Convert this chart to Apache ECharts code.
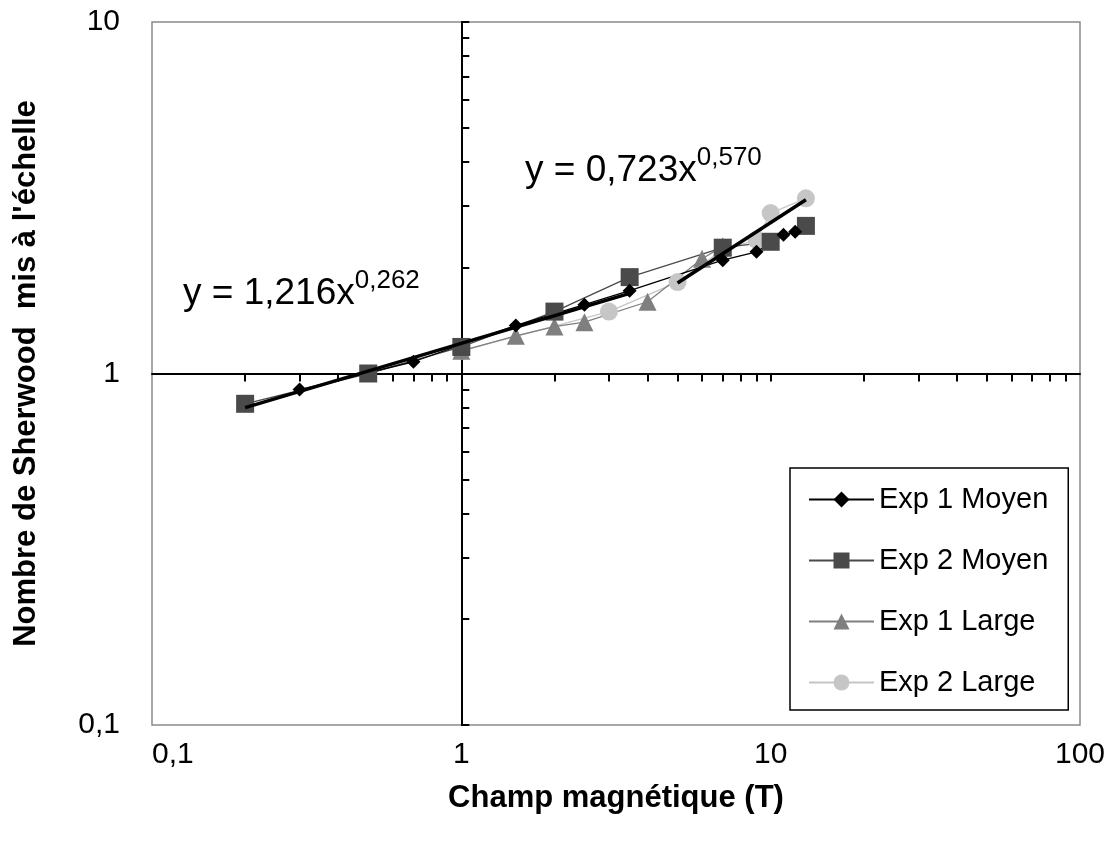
<!DOCTYPE html>
<html>
<head>
<meta charset="utf-8">
<script src="https://cdn.jsdelivr.net/npm/echarts@6/dist/echarts.min.js"></script>
<style>
  html, body { margin: 0; padding: 0; background: #fff; }
  #chart { width: 1112px; height: 843px; }
</style>
</head>
<body>
<div id="chart"></div>
<script>
// values (log-log)
const exp1MoyenX = [0.3, 0.7, 1.5, 2.5, 3.5, 7, 9, 11, 12];
const exp1MoyenY = [0.90, 1.08, 1.37, 1.57, 1.72, 2.10, 2.22, 2.48, 2.53];
const exp2MoyenX = [0.2, 0.5, 1, 2, 3.5, 7, 10, 13];
const exp2MoyenY = [0.82, 1.00, 1.19, 1.50, 1.88, 2.28, 2.37, 2.63];
const exp1LargeX = [1, 1.5, 2, 2.5, 4, 6, 7];
const exp1LargeY = [1.16, 1.28, 1.36, 1.40, 1.60, 2.12, 2.30];
const exp2LargeX = [1, 3, 5, 7, 9, 10, 13];
const exp2LargeY = [1.16, 1.50, 1.82, 2.25, 2.40, 2.86, 3.15];
// fitted power-law segments, end points
const fit1X = [0.2, 3.5];
const fit1Y = [0.80, 1.69];
const fit2X = [5, 13];
const fit2Y = [1.81, 3.12];
const fit1Label = ['y = 1,216x', '0,262'];
const fit2Label = ['y = 0,723x', '0,570'];
const xTickValues = [0.2, 0.3, 0.4, 0.5, 0.6, 0.7, 0.8, 0.9, 2, 3, 4, 5, 6, 7, 8, 9, 10, 20, 30, 40, 50, 60, 70, 80, 90];
const yTickValues = [0.1, 0.2, 0.3, 0.4, 0.5, 0.6, 0.7, 0.8, 0.9, 2, 3, 4, 5, 6, 7, 8, 9, 10];

const FONT = '"Liberation Sans", Arial, sans-serif';

function pairs(xs, ys) {
  return xs.map((x, i) => [x, ys[i]]);
}
function comma(v) {
  return String(+v.toPrecision(6)).replace('.', ',');
}

const chart = echarts.init(document.getElementById('chart'));

function dataSeries(name, xs, ys, symbol, size, color) {
  return {
    name, type: 'line', data: pairs(xs, ys),
    symbol, symbolSize: size,
    itemStyle: { color },
    lineStyle: { color, width: 1.3 },
    emphasis: { disabled: true },
    z: 3,
  };
}
function fitSeries(name, xs, ys) {
  return {
    name, type: 'line', data: pairs(xs, ys),
    symbol: 'none',
    lineStyle: { color: '#000', width: 3.5 },
    emphasis: { disabled: true },
    z: 6,
  };
}
function eqText(parts, left, top) {
  return {
    type: 'text', left, top, z: 10,
    style: {
      text: '{a|' + parts[0] + '}{b|' + parts[1] + '}',
      rich: {
        a: { fontSize: 37, fontFamily: FONT, fill: '#000', lineHeight: 52, verticalAlign: 'middle' },
        b: { fontSize: 26, fontFamily: FONT, fill: '#000', lineHeight: 26, verticalAlign: 'top' },
      },
    },
  };
}

const hidden = { show: false };

chart.setOption({
  animation: false,
  backgroundColor: '#fff',
  textStyle: { fontFamily: FONT },
  grid: {
    left: 152, right: 32, top: 22, bottom: 118,
    show: true, borderColor: '#8a8a8a', borderWidth: 1.5,
    outerBoundsMode: 'none',
  },
  legend: {
    data: ['Exp 1 Moyen', 'Exp 2 Moyen', 'Exp 1 Large', 'Exp 2 Large'],
    orient: 'vertical', left: 790, top: 468,
    padding: [17, 20, 13, 18], itemGap: 32,
    itemWidth: 65, itemHeight: 20,
    borderColor: '#000', borderWidth: 1.5, backgroundColor: '#fff',
    textStyle: { fontSize: 29, color: '#000', fontFamily: FONT, lineHeight: 29 },
    z: 8,
  },
  xAxis: [
    {
      type: 'log', logBase: 10, min: 0.1, max: 100, position: 'bottom',
      axisLine: hidden, axisTick: hidden, splitLine: hidden,
      axisLabel: {
        color: '#000', fontSize: 30, fontFamily: FONT, margin: 15,
        formatter: comma, alignMinLabel: 'left',
      },
      name: 'Champ magnétique (T)', nameLocation: 'middle', nameGap: 58,
      nameMoveOverlap: false,
      nameTextStyle: { fontSize: 31, fontWeight: 'bold', color: '#000', fontFamily: FONT },
    },
    {
      type: 'log', logBase: 10, min: 0.1, max: 100, position: 'bottom', offset: -351.5,
      axisLine: { show: true, lineStyle: { color: '#000', width: 2 } },
      axisTick: { show: true, length: 8, customValues: xTickValues, lineStyle: { color: '#000', width: 2 } },
      axisLabel: hidden, splitLine: hidden,
    },
  ],
  yAxis: [
    {
      type: 'log', logBase: 10, min: 0.1, max: 10, position: 'left',
      axisLine: hidden, axisTick: hidden, splitLine: hidden,
      axisLabel: { color: '#000', fontSize: 30, fontFamily: FONT, margin: 32, formatter: comma },
      name: 'Nombre de Sherwood  mis à l\'échelle', nameLocation: 'middle', nameGap: 110,
      nameMoveOverlap: false,
      nameTextStyle: { fontSize: 31, fontWeight: 'bold', color: '#000', fontFamily: FONT },
    },
    {
      type: 'log', logBase: 10, min: 0.1, max: 10, position: 'left', offset: -309.3,
      axisLine: { show: true, lineStyle: { color: '#000', width: 2 } },
      axisTick: { show: true, inside: true, length: 8, customValues: yTickValues, lineStyle: { color: '#000', width: 2 } },
      axisLabel: hidden, splitLine: hidden,
    },
  ],
  graphic: [
    eqText(fit1Label, 183, 268),
    eqText(fit2Label, 525, 145),
  ],
  series: [
    dataSeries('Exp 2 Large', exp2LargeX, exp2LargeY, 'circle', 18, '#c6c6c6'),
    dataSeries('Exp 1 Large', exp1LargeX, exp1LargeY, 'triangle', 18, '#7f7f7f'),
    dataSeries('Exp 2 Moyen', exp2MoyenX, exp2MoyenY, 'rect', 18, '#4a4a4a'),
    dataSeries('Exp 1 Moyen', exp1MoyenX, exp1MoyenY, 'diamond', 14, '#000'),
    fitSeries('fit1', fit1X, fit1Y),
    fitSeries('fit2', fit2X, fit2Y),
  ],
});
</script>
</body>
</html>
